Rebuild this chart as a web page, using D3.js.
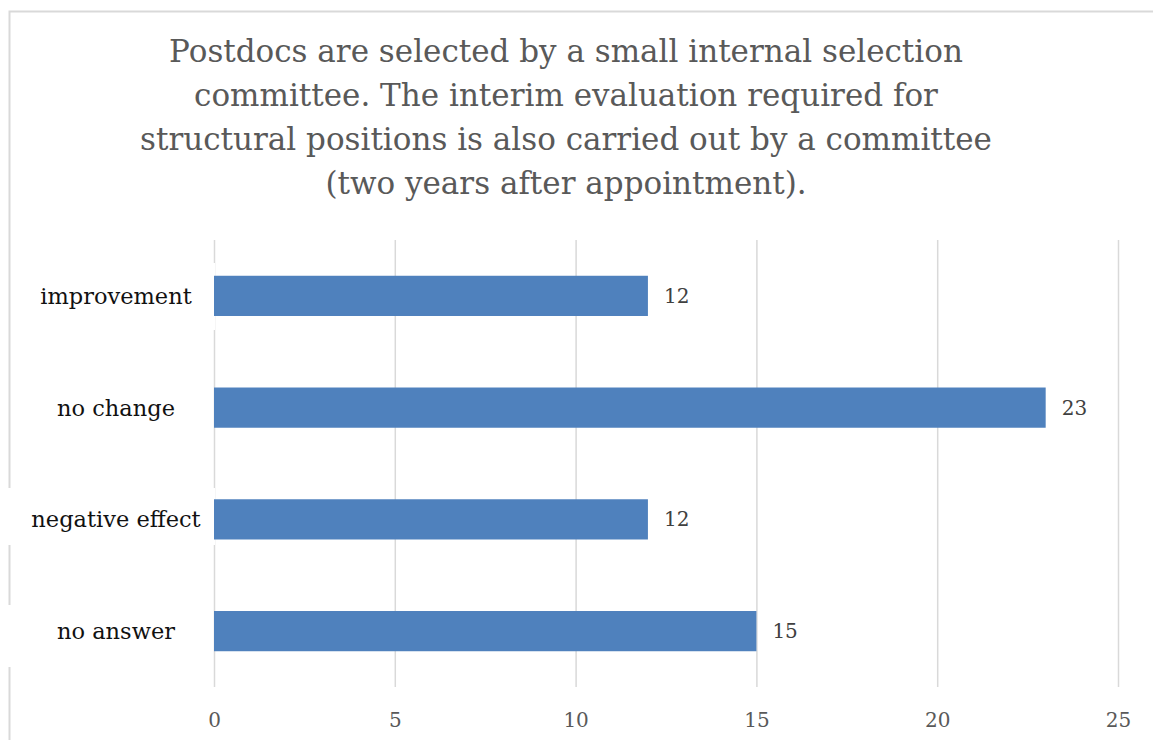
<!DOCTYPE html>
<html>
<head>
<meta charset="utf-8">
<script src="https://cdn.jsdelivr.net/npm/d3@7"></script>
<style>
  html, body { margin: 0; padding: 0; background: #fff; }
  svg { display: block; }
</style>
</head>
<body>
<svg id="chart" width="1153" height="740"></svg>
<script>
// Survey answers and their counts
const categories = ["improvement", "no change", "negative effect", "no answer"];
const counts = [12, 23, 12, 15];
const tickValues = [0, 5, 10, 15, 20, 25];
const titleLines = [
  "Postdocs are selected by a small internal selection",
  "committee. The interim evaluation required for",
  "structural positions is also carried out by a committee",
  "(two years after appointment)."
];

const W = 1153, H = 740;
const serif = "'DejaVu Serif', 'Liberation Serif', serif";
const svg = d3.select("#chart");

// Chart frame
svg.append("rect")
  .attr("x", 9.5).attr("y", 11.5)
  .attr("width", W + 20).attr("height", H + 20)
  .attr("fill", "#fff")
  .attr("stroke", "#d9d9d9").attr("stroke-width", 2);

// Title
svg.append("g").selectAll("text")
  .data(titleLines)
  .join("text")
  .attr("x", 566)
  .attr("y", (d, i) => 51 + i * 44)
  .attr("dy", "0.35em")
  .attr("text-anchor", "middle")
  .attr("font-family", serif)
  .attr("font-size", 31)
  .attr("fill", "#595959")
  .text(d => d);

const plot = { left: 214, right: 1118, top: 240, bottom: 687 };

const x = d3.scaleLinear()
  .domain([0, 25])
  .range([plot.left, plot.right]);

const y = d3.scaleBand()
  .domain(categories)
  .range([plot.top, plot.bottom])
  .paddingInner(0.64)
  .paddingOuter(0.32);

// Vertical gridlines
const grid = svg.append("g")
  .attr("transform", `translate(0,${plot.bottom})`)
  .call(d3.axisBottom(x).tickValues(tickValues)
    .tickSize(-(plot.bottom - plot.top)).tickFormat(""));
grid.select(".domain").remove();
grid.selectAll(".tick line").attr("stroke", "#d9d9d9").attr("stroke-width", 1.5);

// White backing boxes behind the category labels
const labelBoxes = [
  { x: 12, y: 263, w: 203, h: 67 },
  null,
  { x: 0, y: 488, w: 215, h: 57 },
  { x: 0, y: 605, w: 200, h: 62 }
];
svg.append("g").selectAll("rect")
  .data(labelBoxes.filter(b => b))
  .join("rect")
  .attr("x", d => d.x).attr("y", d => d.y)
  .attr("width", d => d.w).attr("height", d => d.h)
  .attr("fill", "#fff");

// X axis tick labels
const xAxis = svg.append("g")
  .attr("transform", `translate(0,${plot.bottom})`)
  .call(d3.axisBottom(x).tickValues(tickValues).tickSize(0).tickPadding(0));
xAxis.select(".domain").remove();
xAxis.selectAll(".tick text")
  .attr("y", 33)
  .attr("dy", "0.35em")
  .attr("font-family", serif)
  .attr("font-size", 20)
  .attr("fill", "#595959");

// Bars
svg.append("g").selectAll("rect")
  .data(categories)
  .join("rect")
  .attr("x", x(0))
  .attr("y", d => y(d))
  .attr("width", (d, i) => x(counts[i]) - x(0))
  .attr("height", y.bandwidth())
  .attr("fill", "#4f81bd");

// Category labels
svg.append("g").selectAll("text")
  .data(categories)
  .join("text")
  .attr("x", 116)
  .attr("y", d => y(d) + y.bandwidth() / 2)
  .attr("dy", "0.35em")
  .attr("text-anchor", "middle")
  .attr("font-family", serif)
  .attr("font-size", 22.5)
  .attr("fill", "#111")
  .text(d => d);

// Value labels
svg.append("g").selectAll("text")
  .data(categories)
  .join("text")
  .attr("x", (d, i) => x(counts[i]) + 16)
  .attr("y", d => y(d) + y.bandwidth() / 2)
  .attr("dy", "0.35em")
  .attr("font-family", serif)
  .attr("font-size", 20)
  .attr("fill", "#404040")
  .text((d, i) => counts[i]);
</script>
</body>
</html>
